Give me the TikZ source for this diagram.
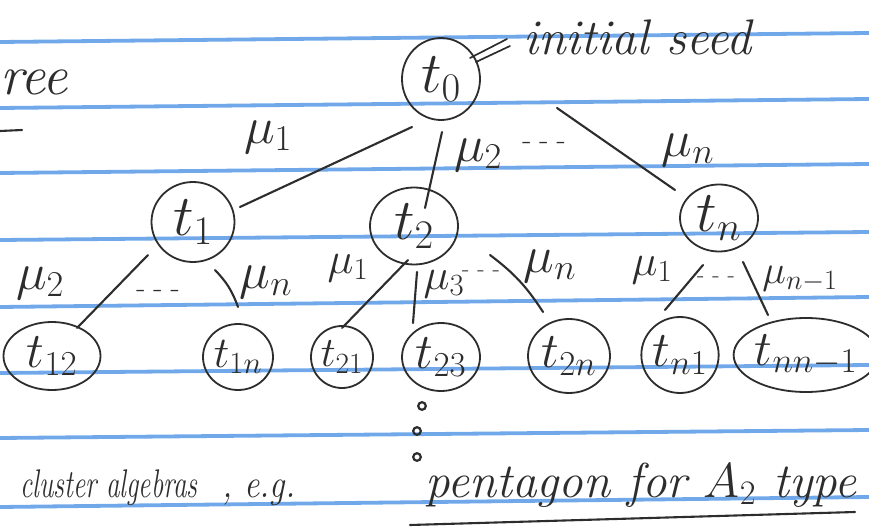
\RequirePackage{fix-cm}
\documentclass[tikz,border=0pt]{standalone}
\usetikzlibrary{shapes.geometric,calc}
\definecolor{ruleblue}{RGB}{112,168,234}
\definecolor{pen}{RGB}{45,45,45}
\newcommand{\dsh}{-\hspace{8pt}-\hspace{8pt}-}
\begin{document}
\begin{tikzpicture}[x=1pt,y=-1pt,
  seed/.style={draw=pen, ellipse, line width=1.8pt, inner sep=0pt, text=pen,
               font=\fontsize{58}{58}\selectfont},
  leaf/.style={seed, font=\fontsize{50}{50}\selectfont},
  edge/.style={draw=pen, line width=2.1pt, line cap=round},
  lbl/.style={text=pen, inner sep=0pt, font=\fontsize{52}{52}\selectfont},
  small lbl/.style={lbl, font=\fontsize{44}{44}\selectfont},
  dashes/.style={text=pen, inner sep=0pt, font=\fontsize{30}{30}\selectfont},
  note/.style={text=pen, inner sep=0pt, anchor=base west},
  ruled/.style={draw=ruleblue, line width=3.8pt}]
\useasboundingbox (0,0) rectangle (869,529);
\fill[white] (0,0) rectangle (869,529);

% ruled notebook lines
\foreach \a/\b in {42/33,108/99,173/164,240/232,307/297,373/365,438/430,507/497}
  \draw[ruled] (0,\a) -- (869,\b);

% seeds of the exchange tree
\node[seed, minimum width=78pt, minimum height=82pt] (t0) at (441,79) {$t_0$};
\node[seed, minimum width=83pt, minimum height=80pt] (t1) at (193,222) {$t_1$};
\node[seed, minimum width=88pt, minimum height=77pt] (t2) at (414,226) {$t_2$};
\node[seed, minimum width=78pt, minimum height=67pt] (tn) at (719,218) {$t_n$};

\node[leaf, minimum width=97pt, minimum height=68pt] (t12) at (52,356) {$t_{12}$};
\node[leaf, minimum width=70pt, minimum height=66pt, font=\fontsize{44}{44}\selectfont] (t1n) at (238,357) {$t_{1n}$};
\node[leaf, minimum width=62pt, minimum height=62pt, font=\fontsize{42}{42}\selectfont] (t21) at (342,357) {$t_{21}$};
\node[leaf, minimum width=78pt, minimum height=68pt] (t23) at (441,357) {$t_{23}$};
\node[leaf, minimum width=82pt, minimum height=74pt] (t2n) at (569,356) {$t_{2n}$};
\node[leaf, minimum width=75pt, minimum height=76pt] (tn1) at (680,355) {$t_{n1}$};
\node[leaf, minimum width=120pt, minimum height=74pt] (tnn) at (806,355) {$t_{nn-1}$};

% mutations
\draw[edge] ($(t0)+(-29,48)$) -- ($(t1)+(47,-15)$);
\draw[edge] ($(t0)+(1,53)$) -- ($(t2)+(11,-18)$);
\draw[edge] ($(t0)+(116,29)$) -- ($(tn)+(-44,-28)$);

\draw[edge] ($(t1)+(-45,33)$) -- ($(t12)+(25,-28)$);
\draw[edge] ($(t1)+(22,48)$) to[bend left=12] ($(t1n)+(0,-50)$);

\draw[edge] ($(t2)+(-6,34)$) -- ($(t21)+(0,-29)$);
\draw[edge] ($(t2)+(3,46)$) -- ($(t23)+(-28,-34)$);
\draw[edge] ($(t2)+(76,29)$) to[bend left=10] ($(t2n)+(-26,-44)$);

\draw[edge] ($(tn)+(-16,47)$) -- ($(tn1)+(-15,-45)$);
\draw[edge] ($(tn)+(24,44)$) -- ($(tnn)+(-38,-40)$);

% mutation labels
\node[lbl] (m01) at (268,137) {$\mu_1$};
\node[lbl] (m02) at (478,155) {$\mu_2$};
\node[dashes] (d0) at (544,146) {\dsh};
\node[lbl] (m0n) at (688,150) {$\mu_n$};

\node[lbl] (m12) at (40,283) {$\mu_2$};
\node[dashes] (d1) at (158,294) {\dsh};
\node[lbl] (m1n) at (266,282) {$\mu_n$};

\node[small lbl] (m21) at (348,268) {$\mu_1$};
\node[small lbl] (m23) at (444,284) {$\mu_3$};
\node[dashes, font=\fontsize{24}{24}\selectfont] (d2) at (481,274) {\dsh};
\node[lbl] (m2n) at (550,266) {$\mu_n$};

\node[small lbl] (mn1) at (652,270) {$\mu_1$};
\node[dashes, font=\fontsize{24}{24}\selectfont] (dn) at (716,280) {\dsh};
\node[lbl, font=\fontsize{40}{40}\selectfont] (mnn) at (800,279) {$\mu_{n-1}$};

% the initial seed annotation
\node[note, font=\itshape\fontsize{50}{50}\selectfont] (seedtxt) at (523,55) {initial seed};
\draw[edge, line width=1.7pt] ($(t0)+(29,-21)$) -- ($(t0)+(66,-40)$);
\draw[edge, line width=1.7pt] ($(t0)+(35,-17)$) -- ($(t0)+(69,-33)$);

% left margin fragments
\node[note, font=\itshape\fontsize{56}{56}\selectfont] (ree) at (0,95) {ree};
\coordinate (dashA) at (0,131);
\coordinate (dashB) at (22,130);
\draw[edge] (dashA) -- (dashB);

% further mutations continue downward
\foreach \p in {(422,406),(417,431),(417,457)}
  \draw[pen, line width=2.2pt] \p circle (3.8pt);

% caption
\node[note, font=\itshape\fontsize{40}{40}\selectfont] (cl) at (20,497) {\scalebox{0.68}[1]{cluster algebras}};
\node[note, font=\itshape\fontsize{40}{40}\selectfont] (eg) at (222,497) {\scalebox{0.85}[1]{, e.g.}};
\node[note, font=\itshape\fontsize{49}{49}\selectfont] (pent) at (425,497) {pentagon for $A_2$ type};
\coordinate (ulA) at (410,525);
\coordinate (ulB) at (855,512);
\draw[edge] (ulA) -- (ulB);
\end{tikzpicture}
\end{document}
